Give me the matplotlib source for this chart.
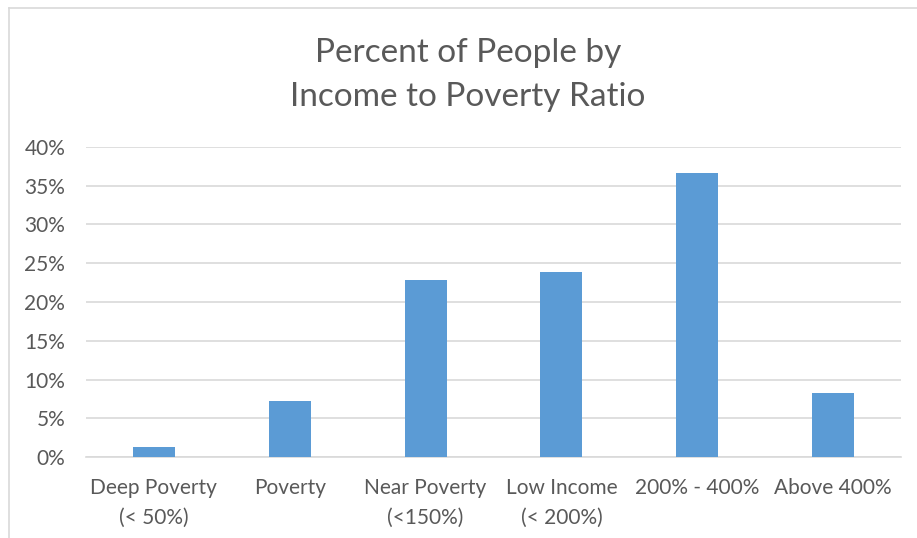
import matplotlib
matplotlib.use("Agg")
import matplotlib.pyplot as plt
from matplotlib.lines import Line2D
from matplotlib.ticker import FuncFormatter, MultipleLocator

categories = ["Deep Poverty\n(< 50%)", "Poverty", "Near Poverty\n(<150%)",
              "Low Income\n(< 200%)", "200% - 400%", "Above 400%"]
percent_people = [1.3, 7.2, 22.9, 23.9, 36.7, 8.3]

TEXT_COLOR = "#595959"
BAR_COLOR = "#5B9BD5"
GRID_COLOR = "#D9D9D9"

plt.rcParams["font.family"] = ["Lato", "DejaVu Sans"]

fig = plt.figure(figsize=(9.17, 5.38), dpi=100)
ax = fig.add_axes([86 / 917, 81 / 538, 815 / 917, 310 / 538])

x = range(len(categories))
ax.bar(x, [v / 100 for v in percent_people], width=0.31, color=BAR_COLOR, zorder=3)

ax.set_xlim(-0.5, len(categories) - 0.5)
ax.set_ylim(0, 0.40)
ax.yaxis.set_major_locator(MultipleLocator(0.05))
ax.yaxis.set_major_formatter(FuncFormatter(lambda v, _: f"{v * 100:.0f}%"))
ax.set_xticks(list(x))
ax.set_xticklabels(categories, linespacing=1.65)
ax.tick_params(axis="both", length=0, labelsize=15, colors=TEXT_COLOR)
ax.tick_params(axis="x", pad=15)
ax.tick_params(axis="y", pad=15)
ax.grid(axis="y", color=GRID_COLOR, linewidth=1.2, zorder=0)
for side in ("top", "right", "left"):
    ax.spines[side].set_visible(False)
ax.spines["bottom"].set_color(GRID_COLOR)
ax.spines["bottom"].set_linewidth(1.2)

fig.text(468 / 917, 1 - 75 / 538, "Percent of People by\nIncome to Poverty Ratio",
         ha="center", va="center", fontsize=24, color=TEXT_COLOR, linespacing=1.55)

# chart-area border (top and left edges visible in the source)
fig.add_artist(Line2D([8.5 / 917, 1], [1 - 7.5 / 538, 1 - 7.5 / 538],
                      transform=fig.transFigure, color=GRID_COLOR, linewidth=1.2))
fig.add_artist(Line2D([8.5 / 917, 8.5 / 917], [0, 1 - 7.5 / 538],
                      transform=fig.transFigure, color=GRID_COLOR, linewidth=1.2))

fig.savefig("out.png", dpi=100)
